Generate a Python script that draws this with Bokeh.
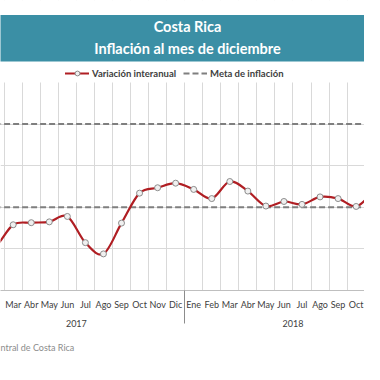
import numpy as np
from bokeh.plotting import figure
from bokeh.models import (Range1d, FixedTicker, LinearAxis, BoxAnnotation, Label, Title,
                          Legend, LegendItem, Grid, ColumnDataSource)
from bokeh.embed import file_html
from bokeh.resources import INLINE

# ---- data ----
meses = ["Ene", "Feb", "Mar", "Abr", "May", "Jun", "Jul", "Ago", "Sep", "Oct", "Nov", "Dic"]
anios = ["2017", "2018"]
inflacion_2017 = [0.95, 1.05, 1.58, 1.63, 1.65, 1.78, 1.15, 0.88, 1.62, 2.34, 2.47, 2.58]
inflacion_2018 = [2.43, 2.21, 2.62, 2.39, 2.03, 2.14, 2.07, 2.25, 2.21, 2.02, 2.31, 2.03]
meta_inferior = 2.0
meta_superior = 4.0
y_max_grid = 5.0

etiquetas = [m for a in anios for m in meses]
valores = inflacion_2017 + inflacion_2018
x = list(range(len(valores)))
n = len(x)

FONT = "Lato"
TXT = "#404040"

# ---- layout constants (pixels) ----
W, H = 364, 364
FRAME_BOTTOM = 290          # axis line
PX_PER_UNIT = 41.6
PX_PER_MONTH = 18.05
X0 = 2 - 12.7 / PX_PER_MONTH  # data x at left edge


def py(pix):  # canvas pixel row -> data y
    return (FRAME_BOTTOM - pix) / PX_PER_UNIT


def px(pix):  # canvas pixel column -> data x
    return X0 + pix / PX_PER_MONTH


p = figure(width=W, height=H, output_backend="svg", toolbar_location=None,
           x_range=Range1d(X0, X0 + W / PX_PER_MONTH),
           y_range=Range1d(0, FRAME_BOTTOM / PX_PER_UNIT),
           x_axis_location=None, y_axis_location=None,
           min_border_left=0, min_border_right=0, min_border_top=0,
           min_border_bottom=H - FRAME_BOTTOM,
           background_fill_color="white", border_fill_color="white", outline_line_color=None)

# grids
p.center = [r for r in p.center if not isinstance(r, Grid)]
bordes = [i - 0.5 for i in range(n + 1)]
p.add_layout(Grid(dimension=0, ticker=FixedTicker(ticks=bordes),
                  grid_line_color="#d9d9d9", grid_line_width=1), "center")
p.add_layout(Grid(dimension=1, ticker=FixedTicker(ticks=[1, 2, 3, 4]),
                  grid_line_color="#d9d9d9", grid_line_width=1), "center")

# meta de inflacion
r_sup = p.line(x, [meta_superior] * n, line_color="#7f7f7f", line_width=2, line_dash="6 3")
r_inf = p.line(x, [meta_inferior] * n, line_color="#7f7f7f", line_width=2, line_dash="6 3")

# smoothed series (bezier segments, control points derived from the data)
xs = np.array(x, dtype=float)
ys = np.array(valores, dtype=float)
k = np.arange(n - 1)
i0 = np.maximum(k - 1, 0)
i1 = k
i2 = k + 1
i3 = np.minimum(k + 2, n - 1)
src = ColumnDataSource(dict(
    x0=xs[i1], y0=ys[i1], x1=xs[i2], y1=ys[i2],
    cx0=xs[i1] + (xs[i2] - xs[i0]) / 6, cy0=ys[i1] + (ys[i2] - ys[i0]) / 6,
    cx1=xs[i2] - (xs[i3] - xs[i1]) / 6, cy1=ys[i2] - (ys[i3] - ys[i1]) / 6,
))
r_curva = p.bezier(x0="x0", y0="y0", x1="x1", y1="y1", cx0="cx0", cy0="cy0",
                   cx1="cx1", cy1="cy1", source=src, line_color="#b01e23",
                   line_width=2.2, line_cap="round")
r_puntos = p.scatter(x, valores, size=6, marker="circle", fill_color="#f0f0f0",
                     line_color="#8c8c8c", line_width=1)

# axes
eje_meses = LinearAxis(
    ticker=FixedTicker(ticks=x, minor_ticks=[-0.5, 11.5, 23.5]),
    major_label_overrides={i: etiquetas[i] for i in x},
    major_tick_line_color=None, major_tick_in=0, major_tick_out=0,
    minor_tick_in=0, minor_tick_out=33, minor_tick_line_color="#8c8c8c",
    axis_line_color="#bfbfbf", major_label_standoff=-25,
    major_label_text_font=FONT, major_label_text_font_size="9px",
    major_label_text_color=TXT)
p.add_layout(eje_meses, "below")
eje_anios = LinearAxis(
    ticker=FixedTicker(ticks=[5.5, 17.5]),
    major_label_overrides={5.5: anios[0], 17.5: anios[1]},
    axis_line_color=None, major_tick_line_color=None, minor_tick_line_color=None,
    major_tick_in=0, major_tick_out=0, major_label_standoff=7,
    major_label_text_font=FONT, major_label_text_font_size="9px",
    major_label_text_color=TXT)
p.add_layout(eje_anios, "below")

# source
p.add_layout(Title(text="ntral de Costa Rica", align="left", offset=0, standoff=21,
                   vertical_align="bottom",
                   text_font=FONT, text_font_size="9px", text_font_style="normal",
                   text_color="#8c8c8c"), "below")

# white area above the plot region and the title band
p.add_layout(BoxAnnotation(left=px(-20), right=px(W + 20), bottom=y_max_grid, top=py(-20),
                           fill_color="white", fill_alpha=1, line_alpha=0))
p.add_layout(BoxAnnotation(left=px(-20), right=px(W + 20), bottom=py(61), top=py(14.5),
                           fill_color="#3b8fa5", fill_alpha=1, line_alpha=0))
for texto, yy in [("Costa Rica", 25.5), ("Inflación al mes de diciembre", 47.5)]:
    p.add_layout(Label(x=px(187), y=py(yy), text=texto,
                       text_align="center", text_baseline="middle", text_color="white",
                       text_font=FONT, text_font_style="bold", text_font_size="14.5px"))

# legend
leyenda = Legend(items=[LegendItem(label="Variación interanual", renderers=[r_curva, r_puntos]),
                        LegendItem(label="Meta de inflación", renderers=[r_sup])],
                 orientation="horizontal", location=(65, FRAME_BOTTOM - 79),
                 glyph_width=24, glyph_height=12,
                 label_height=12, label_standoff=3, spacing=7, padding=0, margin=0,
                 border_line_color=None, background_fill_alpha=0,
                 label_text_font=FONT, label_text_font_size="9.5px", label_text_font_style="bold",
                 label_text_color=TXT)
p.add_layout(leyenda, "center")

open("out.html", "w").write(file_html(p, INLINE))
